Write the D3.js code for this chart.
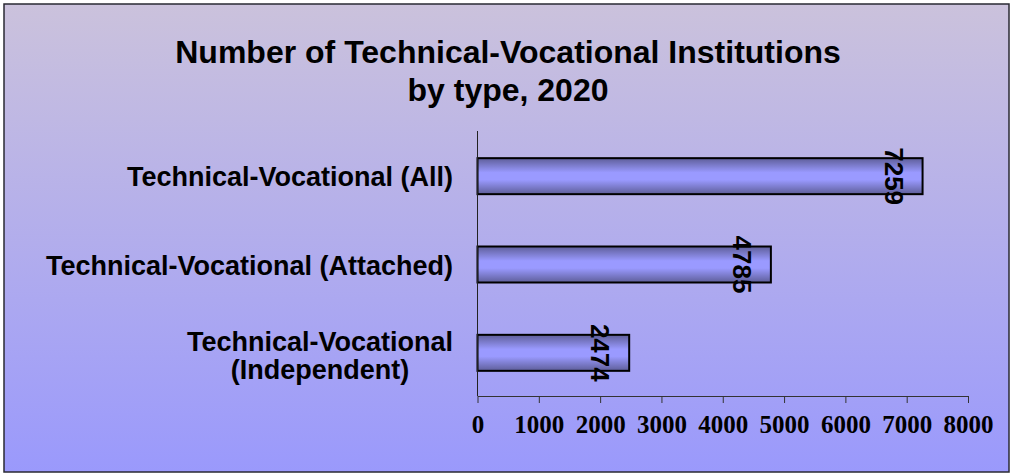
<!DOCTYPE html>
<html><head><meta charset="utf-8">
<script src="https://cdn.jsdelivr.net/npm/d3@7"></script>
<style>html,body{margin:0;padding:0;background:#fff;}svg{display:block;}</style>
</head><body>
<svg id="c" width="1011" height="474"></svg>
<script>
const categories = [["Technical-Vocational (All)"], ["Technical-Vocational (Attached)"], ["Technical-Vocational", "(Independent)"]];
const values = [7259, 4785, 2474];
const tickValues = [0, 1000, 2000, 3000, 4000, 5000, 6000, 7000, 8000];
const titleLines = ["Number of Technical-Vocational Institutions", "by type, 2020"];

const svg = d3.select("#c");
const defs = svg.append("defs");
const bg = defs.append("linearGradient").attr("id","bg").attr("x1",0).attr("y1",0).attr("x2",0).attr("y2",1);
bg.append("stop").attr("offset","0%").attr("stop-color","#cbc2dc");
bg.append("stop").attr("offset","100%").attr("stop-color","#9a99fc");
const bar = defs.append("linearGradient").attr("id","bar").attr("x1",0).attr("y1",0).attr("x2",0).attr("y2",1);
bar.append("stop").attr("offset","0%").attr("stop-color","#5e5e99");
bar.append("stop").attr("offset","40%").attr("stop-color","#9a9aff");
bar.append("stop").attr("offset","60%").attr("stop-color","#9a9aff");
bar.append("stop").attr("offset","100%").attr("stop-color","#5e5e99");

svg.append("rect").attr("x",4).attr("y",4).attr("width",1005).attr("height",468)
  .attr("fill","url(#bg)").attr("stroke","#2a2a33").attr("stroke-width",1.5);

svg.append("text").attr("x",508).attr("y",63).attr("text-anchor","middle")
  .attr("font-family","Liberation Sans, Arial, sans-serif").attr("font-weight","bold").attr("font-size",32)
  .selectAll("tspan").data(titleLines).join("tspan").attr("x",508).attr("dy",(d,i)=>i?38:0).text(d=>d);

const x = d3.scaleLinear().domain([0,8000]).range([477.5,968]);
const y = d3.scaleBand().domain(d3.range(categories.length)).range([131,396]);
const bh = 36;

const g = svg.append("g");
g.selectAll("rect.bar").data(values).join("rect").attr("class","bar")
  .attr("x",x(0)).attr("y",(d,i)=>y(i)+y.bandwidth()/2-bh/2+1)
  .attr("width",d=>x(d)-x(0)).attr("height",bh)
  .attr("fill","url(#bar)").attr("stroke","#000").attr("stroke-width",2);

g.selectAll("text.val").data(values).join("text").attr("class","val")
  .attr("transform",(d,i)=>`translate(${x(d)-38},${y(i)+y.bandwidth()/2+1}) rotate(90)`)
  .attr("text-anchor","middle")
  .attr("font-family","Liberation Sans, Arial, sans-serif").attr("font-weight","bold").attr("font-size",26)
  .text(d=>d);

// y axis line
svg.append("line").attr("x1",477.5).attr("x2",477.5).attr("y1",131).attr("y2",396).attr("stroke","#222").attr("stroke-width",1);

// x axis
const xa = svg.append("g").attr("transform","translate(0,396)")
  .call(d3.axisBottom(x).tickValues(tickValues).tickSize(7).tickSizeOuter(0).tickPadding(12).tickFormat(d3.format("d")));
xa.select(".domain").attr("stroke","#333");
xa.selectAll(".tick line").attr("stroke","#333");
xa.selectAll(".tick text").attr("font-family","Liberation Serif, Times New Roman, serif").attr("font-weight","bold")
  .attr("font-size",25).attr("fill","#000");

// category labels
const cl = svg.append("g");
categories.forEach((lines,i)=>{
  const cy = y(i)+y.bandwidth()/2+1;
  const t = cl.append("text")
    .attr("font-family","Liberation Sans, Arial, sans-serif").attr("font-weight","bold").attr("font-size",27);
  const n = lines.length;
  lines.forEach((s,j)=>{
    t.append("tspan").attr("x", n>1 ? 320 : 453).attr("text-anchor", n>1 ? "middle" : "end")
      .attr("y", cy + (n>1 ? 12 : 10) + (j-(n-1)/2)*28).text(s);
  });
});
</script>
</body></html>
